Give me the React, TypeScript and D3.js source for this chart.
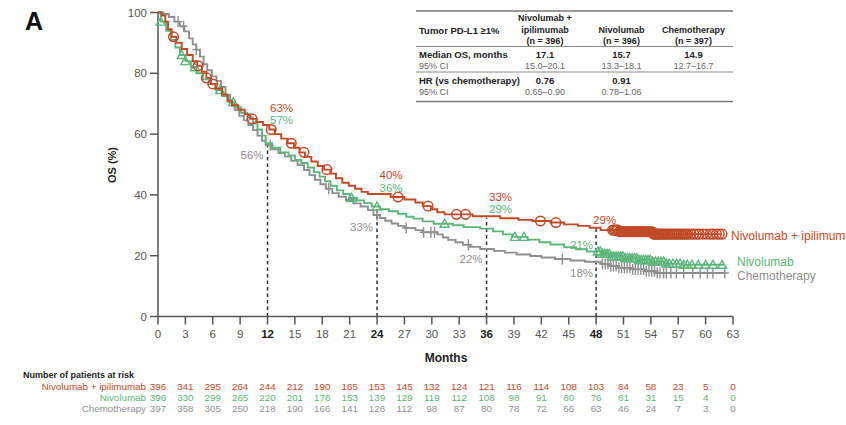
import React from "react";
import * as d3 from "d3";

const W = 846;
const H = 425;
const FONT = "'Liberation Sans', Arial, Helvetica, sans-serif";

const RED = "#bf4a28";
const GREEN = "#5db57b";
const GRAY = "#8f8f8f";

// Kaplan–Meier steps: [month, OS %] — value holds from that month on
const nivoIpiSteps: [number, number][] = [
  [0, 100], [0.4, 99], [0.8, 97], [1.1, 94.5], [1.5, 92], [2.0, 90], [2.6, 88], [3.2, 86],
  [3.8, 84], [4.3, 82.5], [4.8, 80.5], [5.3, 78.5], [5.8, 76.5], [6.3, 75], [7.0, 73],
  [7.6, 71], [8.1, 69.5], [8.8, 68], [9.5, 66.5], [10.1, 65], [10.8, 64], [11.5, 63],
  [12.2, 61.5], [12.8, 60], [13.5, 58.5], [14.2, 57], [14.9, 55.5], [15.5, 54], [16.1, 52.5],
  [16.8, 51], [17.5, 49.5], [18.2, 48.3], [18.9, 47], [19.5, 45.5], [20.2, 44], [20.9, 43],
  [21.6, 42], [22.3, 41], [23.0, 40.3], [25.5, 39.3], [27.0, 38.5], [28.2, 37.5], [29.0, 36.3],
  [29.9, 35.3], [30.6, 34.3], [31.4, 33.6], [34.5, 33], [37.5, 32.3], [39.5, 31.8], [41.0, 31.4],
  [43.0, 30.9], [44.5, 30.3], [46.0, 29.8], [47.3, 29.2], [48.5, 28.4], [50.5, 27.9],
  [54.3, 27.1],
];
const nivoIpiEnd = 61.8;
const nivoIpiCensor = [
  1.7, 4.4, 5.3, 6.0, 10.3, 12.4, 14.6, 16.0, 18.5, 26.3, 29.6, 32.7, 33.7, 41.9, 43.6,
  49.8, 49.95, 50.1, 50.25, 50.4, 50.55, 50.7, 50.85, 51.0, 51.15, 51.3, 51.45, 51.6, 51.75,
  51.9, 52.05, 52.2, 52.35, 52.5, 52.65, 52.8, 52.95, 53.1, 53.25, 53.4, 53.55, 53.7, 53.85,
  54.0, 54.15, 54.3, 54.45, 54.6, 54.75, 54.9, 55.05, 55.2, 55.35, 55.5, 55.7, 55.9, 56.1,
  56.3, 56.5, 56.7, 56.9, 57.1, 57.3, 57.5, 57.7, 57.9, 58.1, 58.4, 58.7, 59.0, 59.3, 59.7,
  60.1, 60.5, 60.8, 61.2, 61.5, 61.8,
];

const nivoSteps: [number, number][] = [
  [0, 100], [0.3, 97], [0.9, 94], [1.4, 91], [1.9, 88.5], [2.4, 86], [3.0, 84], [3.6, 82],
  [4.2, 80], [4.9, 78], [5.6, 76.5], [6.3, 74.5], [7.0, 72.5], [7.7, 70.5], [8.4, 68.8],
  [9.1, 67], [9.8, 65.5], [10.4, 63.5], [10.9, 61.5], [11.4, 59.5], [11.8, 57], [12.5, 55.5],
  [13.4, 54], [14.3, 53], [15.0, 51.5], [15.7, 50.5], [16.4, 49], [17.1, 47.5], [17.7, 46],
  [18.3, 44.5], [18.9, 43], [19.6, 41.5], [20.3, 40.3], [21.0, 39], [21.8, 38.2], [22.6, 37.3],
  [23.4, 36.2], [24.3, 35.3], [25.3, 34.6], [26.3, 33.8], [27.2, 32.8], [28.0, 32.2],
  [29.0, 31.3], [30.2, 30.5], [32.3, 30.0], [33.5, 29.4], [35.3, 28.9], [36.7, 28.0],
  [37.8, 27.0], [38.8, 26.2], [40.5, 25.3], [41.8, 24.4], [43.0, 23.7], [44.5, 22.8],
  [45.8, 22.1], [47.0, 21.4], [48.6, 20.6], [49.6, 19.8], [51.0, 19.2], [52.5, 18.6],
  [54.0, 18.0], [55.5, 17.4], [57.5, 17.0],
];
const nivoEnd = 62;
const nivoCensor = [
  0.3, 2.6, 3.0, 4.05, 6.8, 8.25, 21.2, 24.0, 31.4, 39.1, 40.1,
  48.2, 48.45, 48.7, 48.95, 49.2, 49.45, 49.7, 49.95, 50.2, 50.45, 50.7, 50.95, 51.2, 51.45,
  51.7, 51.95, 52.2, 52.45, 52.7, 52.95, 53.2, 53.45, 53.7, 53.95, 54.2, 54.5, 54.8, 55.1,
  55.4, 55.7, 56.0, 56.4, 56.8, 57.2, 57.6, 58.0, 58.5, 59.2, 60.0, 60.8, 61.8,
];

const chemoSteps: [number, number][] = [
  [0, 100], [0.6, 99.5], [1.2, 98.5], [1.8, 97], [2.4, 95.5], [2.9, 93.8], [3.4, 91.5],
  [3.8, 89.5], [4.2, 87.8], [4.6, 85.5], [5.0, 83], [5.4, 81], [5.9, 79], [6.4, 77.5],
  [6.9, 75.5], [7.4, 73], [7.9, 70.5], [8.4, 68], [8.9, 66], [9.4, 64.5], [9.9, 63],
  [10.4, 61.3], [10.9, 59.5], [11.4, 57.8], [11.8, 56.3], [12.5, 55], [13.2, 53.8],
  [13.9, 52.6], [14.6, 51.2], [15.3, 49.8], [16.0, 48.2], [16.6, 46.5], [17.2, 45],
  [17.8, 43.5], [18.4, 42], [19.1, 40.6], [19.8, 39.4], [20.6, 38.3], [21.4, 37.2],
  [22.2, 36.2], [23.0, 35], [23.6, 33.4], [24.3, 32.4], [24.9, 31.5], [25.6, 30.6],
  [26.3, 29.8], [27.0, 29.1], [28.2, 28.4], [29.0, 27.7], [30.6, 27.0], [31.2, 26.0],
  [31.8, 25.2], [32.6, 24.4], [33.4, 23.6], [34.2, 22.9], [35.3, 22.2], [36.8, 21.6],
  [38.0, 21.0], [39.3, 20.4], [40.8, 19.9], [42.0, 19.4], [43.5, 18.9], [45.2, 18.4],
  [46.8, 18.0], [48.5, 17.3], [49.5, 16.6], [50.5, 16.0], [52.0, 15.5], [53.3, 14.9],
  [54.5, 14.3],
];
const chemoEnd = 62.1;
const chemoCensor = [
  2.2, 2.8, 4.2, 12.3, 18.7, 24.0, 27.2, 29.1, 29.9, 30.3, 34.0, 44.3,
  48.7, 49.0, 49.3, 49.6, 49.9, 50.2, 50.5, 50.8, 51.1, 51.4, 51.7, 52.0, 52.3, 52.6, 52.9,
  53.2, 53.5, 53.8, 54.1, 54.4, 54.7, 55.0, 55.4, 55.7, 56.2, 56.8, 57.6, 58.6, 59.4, 60.2,
  60.8, 62.1,
];

// Landmark survival rates (months 12, 24, 36, 48)
const landmarkMonths = [12, 24, 36, 48];
const landmarkTop = [57, 36, 32.5, 29];
const nivoIpiLandmark = [63, 40, 33, 29];
const nivoLandmark = [57, 36, 29, 21];
const chemoLandmark = [56, 33, 22, 18];

const xTicks = [0, 3, 6, 9, 12, 15, 18, 21, 24, 27, 30, 33, 36, 39, 42, 45, 48, 51, 54, 57, 60, 63];
const yTicks = [0, 20, 40, 60, 80, 100];

const riskNivoIpi = [396, 341, 295, 264, 244, 212, 190, 165, 153, 145, 132, 124, 121, 116, 114, 108, 103, 84, 58, 23, 5, 0];
const riskNivo = [396, 330, 299, 265, 220, 201, 176, 153, 139, 129, 119, 112, 108, 98, 91, 80, 76, 61, 31, 15, 4, 0];
const riskChemo = [397, 358, 305, 250, 218, 190, 166, 141, 126, 112, 98, 87, 80, 78, 72, 66, 63, 46, 24, 7, 3, 0];

const armNames = ["Nivolumab + ipilimumab", "Nivolumab", "Chemotherapy"];
const armN = ["(n = 396)", "(n = 396)", "(n = 397)"];
const medianOS = ["17.1", "15.7", "14.9"];
const medianCI = ["15.0–20.1", "13.3–18.1", "12.7–16.7"];
const hrValues = ["0.76", "0.91"];
const hrCI = ["0.65–0.90", "0.78–1.06"];

const x = d3.scaleLinear().domain([0, 63]).range([158, 733]);
const y = d3.scaleLinear().domain([0, 100]).range([316.5, 12.5]);

const stepLine = d3
  .line<[number, number]>()
  .x((d) => x(d[0]))
  .y((d) => y(d[1]))
  .curve(d3.curveStepAfter);

function valueAt(steps: [number, number][], t: number) {
  const i = d3.bisector((d: [number, number]) => d[0]).right(steps, t) - 1;
  return steps[Math.max(0, i)][1];
}

function curvePath(steps: [number, number][], end: number) {
  return stepLine([...steps, [end, steps[steps.length - 1][1]]]) || "";
}

const Circle = ({ cx, cy, color }: any) => (
  <circle cx={cx} cy={cy} r={4.8} fill="none" stroke={color} strokeWidth={1.5} />
);
const Tri = ({ cx, cy, color }: any) => (
  <path
    d={`M${cx - 4.5},${cy + 3.5}L${cx},${cy - 4.5}L${cx + 4.5},${cy + 3.5}Z`}
    fill="none"
    stroke={color}
    strokeWidth={1.4}
  />
);
const Cross = ({ cx, cy, color }: any) => (
  <path
    d={`M${cx - 4},${cy}H${cx + 4}M${cx},${cy - 5.5}V${cy + 5.5}`}
    fill="none"
    stroke={color}
    strokeWidth={1.4}
  />
);

export default function App() {
  const arms = [
    { steps: chemoSteps, end: chemoEnd, censor: chemoCensor, color: GRAY, Mark: Cross },
    { steps: nivoSteps, end: nivoEnd, censor: nivoCensor, color: GREEN, Mark: Tri },
    { steps: nivoIpiSteps, end: nivoIpiEnd, censor: nivoIpiCensor, color: RED, Mark: Circle },
  ];

  const colX = [545, 621.5, 693.5];
  const risks = [riskNivoIpi, riskNivo, riskChemo];
  const riskColors = [RED, GREEN, GRAY];

  return (
    <svg
      width={W}
      height={H}
      style={{ position: "absolute", left: 0, top: 0, background: "#fff" }}
      fontFamily={FONT}
    >
      <rect width={W} height={H} fill="#fff" />
      <text x={25} y={30} fontSize={25} fontWeight="bold" fill="#111">A</text>

      {/* summary table */}
      <g fill="#222">
        <line x1={416} x2={733} y1={11} y2={11} stroke="#777" strokeWidth={1.5} />
        <text x={419} y={34} fontSize={9.5} fontWeight="bold">Tumor PD-L1 ≥1%</text>
        <text x={colX[0]} y={21} fontSize={9} fontWeight="bold" textAnchor="middle">Nivolumab +</text>
        <text x={colX[0]} y={32.5} fontSize={9} fontWeight="bold" textAnchor="middle">ipilimumab</text>
        <text x={colX[1]} y={32.5} fontSize={9} fontWeight="bold" textAnchor="middle">{armNames[1]}</text>
        <text x={colX[2]} y={32.5} fontSize={9} fontWeight="bold" textAnchor="middle">{armNames[2]}</text>
        {armN.map((n, i) => (
          <text key={n + i} x={colX[i]} y={43.5} fontSize={9} fontWeight="bold" textAnchor="middle">{n}</text>
        ))}
        <line x1={416} x2={733} y1={46.5} y2={46.5} stroke="#888" strokeWidth={1} />
        <text x={419} y={58} fontSize={9.5} fontWeight="bold">Median OS, months</text>
        {medianOS.map((v, i) => (
          <text key={"m" + i} x={colX[i]} y={58} fontSize={9.5} fontWeight="bold" textAnchor="middle">{v}</text>
        ))}
        <text x={419} y={68.5} fontSize={9} fill="#666">95% CI</text>
        {medianCI.map((v, i) => (
          <text key={"c" + i} x={colX[i]} y={68.5} fontSize={9} fill="#666" textAnchor="middle">{v}</text>
        ))}
        <line x1={416} x2={733} y1={72} y2={72} stroke="#888" strokeWidth={1} />
        <text x={419} y={84} fontSize={9.5} fontWeight="bold">HR (vs chemotherapy)</text>
        {hrValues.map((v, i) => (
          <text key={"h" + i} x={colX[i]} y={84} fontSize={9.5} fontWeight="bold" textAnchor="middle">{v}</text>
        ))}
        <text x={419} y={94.5} fontSize={9} fill="#666">95% CI</text>
        {hrCI.map((v, i) => (
          <text key={"hc" + i} x={colX[i]} y={94.5} fontSize={9} fill="#666" textAnchor="middle">{v}</text>
        ))}
        <line x1={416} x2={733} y1={101.5} y2={101.5} stroke="#777" strokeWidth={1.5} />
      </g>

      {/* landmark guides */}
      {landmarkMonths.map((m, i) => (
        <line
          key={"g" + m}
          x1={x(m)}
          x2={x(m)}
          y1={y(0)}
          y2={y(landmarkTop[i])}
          stroke="#333"
          strokeWidth={1.5}
          strokeDasharray="3.5,3"
        />
      ))}

      {/* axes */}
      <g stroke="#555" strokeWidth={1.5} fill="none">
        <line x1={x(0)} x2={x(0)} y1={y(100) - 0.5} y2={y(0)} />
        <line x1={x(0)} x2={x(63)} y1={y(0)} y2={y(0)} />
        {yTicks.map((t) => (
          <line key={"yt" + t} x1={x(0) - 8} x2={x(0)} y1={y(t)} y2={y(t)} />
        ))}
        {xTicks.map((t) => (
          <line key={"xt" + t} x1={x(t)} x2={x(t)} y1={y(0)} y2={y(0) + 8} />
        ))}
      </g>
      {yTicks.map((t) => (
        <text key={"yl" + t} x={x(0) - 11} y={y(t) + 4} fontSize={11.5} fill="#555" textAnchor="end">{t}</text>
      ))}
      {xTicks.map((t) => {
        const bold = landmarkMonths.includes(t);
        return (
          <text
            key={"xl" + t}
            x={x(t)}
            y={338}
            fontSize={11.5}
            fill={bold ? "#222" : "#555"}
            fontWeight={bold ? "bold" : "normal"}
            textAnchor="middle"
          >
            {t}
          </text>
        );
      })}
      <text x={446} y={362} fontSize={12} fontWeight="bold" fill="#222" textAnchor="middle">Months</text>
      <text
        transform="translate(116,165) rotate(-90)"
        fontSize={11}
        fontWeight="bold"
        fill="#222"
        textAnchor="middle"
      >
        OS (%)
      </text>

      {/* survival curves */}
      {arms.map((a) => (
        <g key={a.color}>
          <path d={curvePath(a.steps, a.end)} fill="none" stroke={a.color} strokeWidth={1.9} />
          {a.censor.map((t, j) => (
            <a.Mark key={j} cx={x(t)} cy={y(valueAt(a.steps, t))} color={a.color} />
          ))}
        </g>
      ))}

      {/* landmark rate labels */}
      <g fontSize={11.5}>
        {landmarkMonths.slice(0, 3).map((m, i) => (
          <g key={"ll" + m}>
            <text x={x(m) + 2.5} y={[111.5, 179, 200.5][i]} fill={RED}>{nivoIpiLandmark[i]}%</text>
            <text x={x(m) + 2.5} y={[124, 192, 213][i]} fill={GREEN}>{nivoLandmark[i]}%</text>
            <text x={x(m) - 4} y={[159, 231, 263][i]} fill={GRAY} textAnchor="end">{chemoLandmark[i]}%</text>
          </g>
        ))}
        <text x={x(48) - 3} y={224} fill={RED}>{nivoIpiLandmark[3]}%</text>
        <text x={x(48) - 3} y={249} fill={GREEN} textAnchor="end">{nivoLandmark[3]}%</text>
        <text x={x(48) - 3} y={277} fill={GRAY} textAnchor="end">{chemoLandmark[3]}%</text>
      </g>

      {/* curve end labels */}
      <g fontSize={12}>
        <text x={731} y={240} fill={RED}>{armNames[0]}</text>
        <text x={737} y={266} fill={GREEN}>{armNames[1]}</text>
        <text x={737} y={279.5} fill={GRAY}>{armNames[2]}</text>
      </g>

      {/* patients at risk */}
      <text x={23} y={377.5} fontSize={9} fontWeight="bold" fill="#222">Number of patients at risk</text>
      {risks.map((row, r) => (
        <g key={"r" + r} fontSize={9.8} fill={riskColors[r]}>
          <text x={146} y={389.5 + r * 11} textAnchor="end">{armNames[r]}</text>
          {row.map((v, i) => (
            <text key={i} x={x(xTicks[i])} y={389.5 + r * 11} textAnchor="middle">{v}</text>
          ))}
        </g>
      ))}
    </svg>
  );
}
